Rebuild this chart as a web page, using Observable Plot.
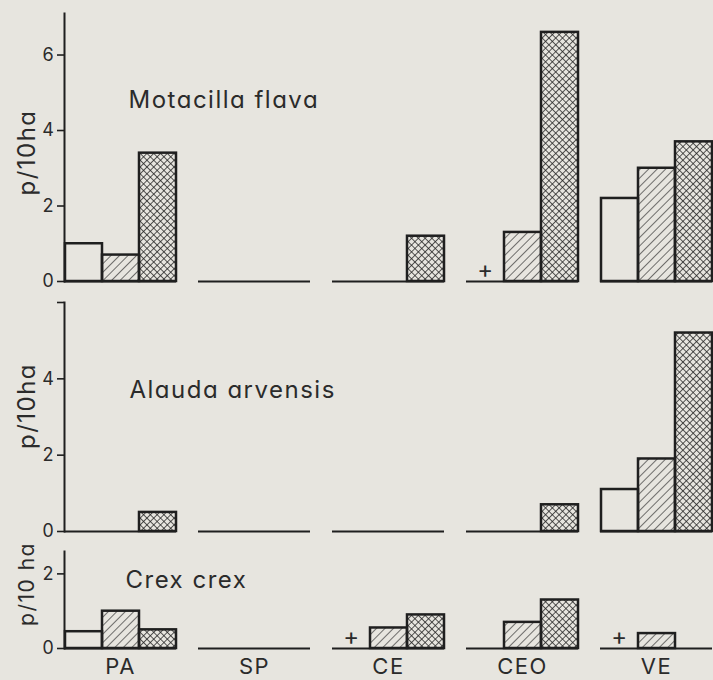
<!DOCTYPE html>
<html>
<head>
<meta charset="utf-8">
<script src="https://cdn.jsdelivr.net/npm/d3@7"></script>
<script src="https://cdn.jsdelivr.net/npm/@observablehq/plot@0.6"></script>
<style>
  html, body { margin: 0; padding: 0; background: #e7e5df; overflow: hidden; }
  #chart svg { display: block; overflow: visible; }
  #chart text { font-family: Inter, "DejaVu Sans", sans-serif; font-feature-settings: "cv11"; letter-spacing: 1.5px; fill: #2b2b2b; }
  #chart text.ylab { letter-spacing: 2.5px; }
  #chart text.ylab3 { letter-spacing: 1.5px; }
</style>
</head>
<body>
<svg width="0" height="0" style="position:absolute">
  <defs>
    <pattern id="hatch" patternUnits="userSpaceOnUse" width="6" height="6" patternTransform="rotate(45)">
      <line x1="0" y1="0" x2="0" y2="6" stroke="#2a2a2a" stroke-width="1.3"/>
    </pattern>
    <pattern id="cross" patternUnits="userSpaceOnUse" width="4.8" height="4.8" patternTransform="rotate(45)">
      <line x1="0" y1="0" x2="0" y2="4.8" stroke="#222" stroke-width="1.5"/>
      <line x1="0" y1="0" x2="4.8" y2="0" stroke="#222" stroke-width="1.5"/>
    </pattern>
  </defs>
</svg>
<div id="chart"></div>
<script>
// ---- data ----
const groups = ["PA", "SP", "CE", "CEO", "VE"];
const series = ["open", "hatched", "cross"];

const motacillaTitle = "Motacilla flava";
const motacillaOpen    = [1.0, 0, 0,   0,   2.2];
const motacillaHatched = [0.7, 0, 0,   1.3, 3.0];
const motacillaCross   = [3.4, 0, 1.2, 6.6, 3.7];
const motacillaTrace   = ["CEO"];

const alaudaTitle = "Alauda arvensis";
const alaudaOpen    = [0,   0, 0, 0,   1.1];
const alaudaHatched = [0,   0, 0, 0,   1.9];
const alaudaCross   = [0.5, 0, 0, 0.7, 5.2];
const alaudaTrace   = [];

const crexTitle = "Crex crex";
const crexOpen    = [0.45, 0, 0,    0,   0];
const crexHatched = [1.0,  0, 0.55, 0.7, 0.4];
const crexCross   = [0.5,  0, 0.9,  1.3, 0];
const crexTrace   = ["CE", "VE"];

const yLabels = ["p/10ha", "p/10ha", "p/10 ha"];
const yMax = [7.1, 6.0, 2.6];
const yTicks1 = [0, 2, 4, 6], yTickLabels1 = ["0", "2", "4", "6"];
const yTicks2 = [0, 2, 4, 6], yTickLabels2 = ["0", "2", "4", ""];
const yTicks3 = [0, 2],       yTickLabels3 = ["0", "2"];

const patternOf = {open: "none", hatched: "url(#hatch)", cross: "url(#cross)"};
const ink = "#1f1f1f";

function rows(open, hatched, cross) {
  const out = [];
  groups.forEach((g, i) => {
    [open, hatched, cross].forEach((arr, j) => {
      if (arr[i] > 0) out.push({group: g, series: series[j], value: arr[i]});
    });
  });
  return out;
}

function panel(o) {
  const data = rows(o.open, o.hatched, o.cross);
  const marks = [
    Plot.frame({anchor: "left", facetAnchor: "left", stroke: ink, strokeWidth: 2}),
    Plot.axisY({
      ticks: o.ticks,
      tickFormat: (d) => o.tickLabels[o.ticks.indexOf(d)],
      tickSize: 7, tickPadding: 2, fontSize: 18, stroke: ink, strokeWidth: 1.6,
      label: null
    }),
    Plot.text([o.yLabel], {
      fx: ["PA"], frameAnchor: "left", text: (d) => d, rotate: -90,
      dx: -37, dy: o.labelDy, fontSize: o.labelSize, textAnchor: "middle", lineAnchor: "middle",
      className: o.labelClass
    }),
    Plot.ruleY(groups, {fx: (d) => d, y: () => 0, stroke: ink, strokeWidth: 2}),
    Plot.barY(data, {
      fx: "group", x: "series", y: "value",
      fill: (d) => patternOf[d.series], stroke: ink, strokeWidth: 2.5
    }),
    Plot.text(o.trace, {
      fx: (d) => d, x: () => "open", y: () => 0, text: () => "+",
      dy: -11, fontSize: 24, lineAnchor: "middle", fill: ink
    }),
    Plot.text([o.title], {
      fx: ["PA"], frameAnchor: "top-left", text: (d) => d,
      dx: o.titleDx, dy: o.titleDy, fontSize: 24, textAnchor: "start", lineAnchor: "top"
    })
  ];
  if (o.showX) {
    marks.push(Plot.axisFx({anchor: "bottom", tickSize: 0, tickPadding: 10, fontSize: 22, label: null}));
  }
  return Plot.plot({
    width: 713,
    height: o.height,
    marginLeft: 63,
    marginRight: 0,
    marginTop: o.marginTop,
    marginBottom: o.marginBottom,
    style: {background: "transparent", fontSize: "18px", color: ink, overflow: "visible"},
    fx: {domain: groups, paddingInner: 0.164, paddingOuter: 0, axis: null, label: null},
    x: {domain: series, padding: 0, axis: null},
    y: {domain: [0, o.yMax], axis: null},
    color: {type: "identity"},
    marks
  });
}

const chart = document.getElementById("chart");
chart.append(panel({
  title: motacillaTitle, open: motacillaOpen, hatched: motacillaHatched, cross: motacillaCross,
  trace: motacillaTrace, yLabel: yLabels[0], yMax: yMax[0], ticks: yTicks1, tickLabels: yTickLabels1,
  height: 290, marginTop: 13, marginBottom: 9, titleDx: 64, titleDy: 77,
  labelDy: 5, labelSize: 24, labelClass: "ylab", showX: false
}));
chart.append(panel({
  title: alaudaTitle, open: alaudaOpen, hatched: alaudaHatched, cross: alaudaCross,
  trace: alaudaTrace, yLabel: yLabels[1], yMax: yMax[1], ticks: yTicks2, tickLabels: yTickLabels2,
  height: 250, marginTop: 12, marginBottom: 9, titleDx: 65, titleDy: 78,
  labelDy: -11, labelSize: 24, labelClass: "ylab", showX: false
}));
chart.append(panel({
  title: crexTitle, open: crexOpen, hatched: crexHatched, cross: crexCross,
  trace: crexTrace, yLabel: yLabels[2], yMax: yMax[2], ticks: yTicks3, tickLabels: yTickLabels3,
  height: 140, marginTop: 11, marginBottom: 32, titleDx: 61, titleDy: 19,
  labelDy: -16, labelSize: 21, labelClass: "ylab3", showX: true
}));
</script>
</body>
</html>
